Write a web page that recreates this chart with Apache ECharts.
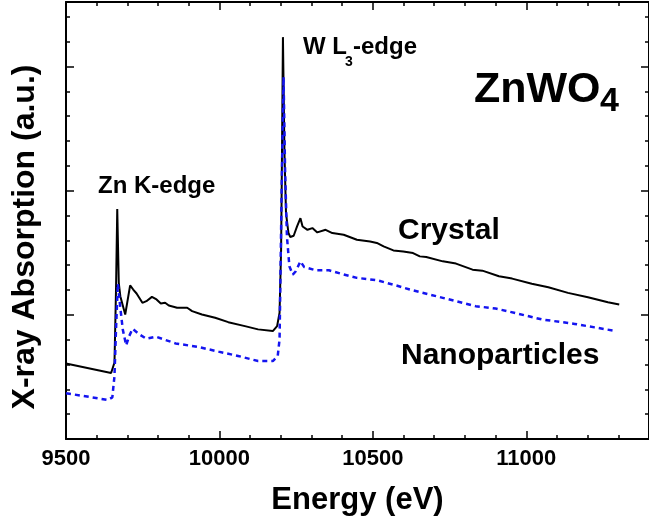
<!DOCTYPE html>
<html>
<head>
<meta charset="utf-8">
<script src="https://cdn.jsdelivr.net/npm/echarts@6/dist/echarts.min.js"></script>
<style>
html,body{margin:0;padding:0;background:#fff;}
#chart{width:649px;height:521px;}
</style>
</head>
<body>
<div id="chart"></div>
<script>
// Crystal (black solid)
var crystalEnergy = [9500, 9647, 9653, 9658, 9663, 9667, 9672, 9677, 9693, 9709, 9719, 9730, 9736, 9749, 9762, 9780, 9795, 9809, 9823, 9835, 9862, 9895, 9911, 9943, 9986, 10029, 10083, 10126, 10174, 10188, 10196, 10201, 10203, 10207, 10212, 10217, 10225, 10231, 10242, 10253, 10264, 10271, 10287, 10303, 10319, 10346, 10368, 10405, 10448, 10491, 10513, 10535, 10567, 10599, 10631, 10653, 10674, 10728, 10771, 10825, 10857, 10911, 10954, 11018, 11072, 11136, 11201, 11266, 11303];
var crystalAbs = [0.608, 0.532, 0.546, 0.616, 1.204, 1.852, 1.258, 1.150, 1.003, 1.238, 1.204, 1.172, 1.156, 1.097, 1.110, 1.145, 1.124, 1.091, 1.097, 1.075, 1.057, 1.057, 1.030, 1.003, 0.977, 0.941, 0.909, 0.883, 0.869, 0.909, 1.017, 1.525, 2.033, 3.237, 2.301, 1.819, 1.659, 1.627, 1.637, 1.712, 1.779, 1.712, 1.685, 1.699, 1.664, 1.685, 1.659, 1.645, 1.605, 1.591, 1.579, 1.551, 1.519, 1.511, 1.498, 1.471, 1.466, 1.431, 1.413, 1.364, 1.356, 1.311, 1.292, 1.250, 1.222, 1.177, 1.142, 1.102, 1.083];
// Nanoparticles (blue dashed)
var nanoEnergy = [9500, 9636, 9651, 9658, 9663, 9669, 9674, 9685, 9696, 9706, 9717, 9739, 9762, 9793, 9825, 9857, 9932, 9997, 10061, 10126, 10174, 10190, 10196, 10203, 10209, 10214, 10220, 10228, 10239, 10249, 10264, 10276, 10314, 10357, 10395, 10448, 10513, 10577, 10620, 10728, 10835, 10900, 10943, 11051, 11158, 11223, 11293];
var nanoAbs = [0.369, 0.315, 0.335, 0.508, 0.883, 1.252, 1.124, 0.883, 0.754, 0.829, 0.888, 0.843, 0.808, 0.824, 0.797, 0.770, 0.741, 0.704, 0.669, 0.628, 0.628, 0.669, 0.803, 2.033, 2.916, 2.167, 1.632, 1.391, 1.324, 1.351, 1.431, 1.386, 1.359, 1.359, 1.332, 1.298, 1.279, 1.236, 1.204, 1.137, 1.070, 1.051, 1.027, 0.963, 0.927, 0.899, 0.869];
var xMin = 9500, xMax = 11400, xMajor = 500, xMinor = 100;
var yMin = 0, yMax = 3.52, yMajor = 1, yMinor = 0.2;

function pairs(xs, ys) { return xs.map(function (x, i) { return [x, ys[i]]; }); }

var FONT = '"Liberation Sans", Arial, Helvetica, sans-serif';
var chart = echarts.init(document.getElementById('chart'), null, {renderer: 'canvas'});

function xAx(pos, interval, len, line, labels, extra) {
  var a = {
    type: 'value', position: pos, min: xMin, max: xMax, interval: interval,
    axisLine: {show: line, onZero: false, lineStyle: {color: '#000', width: 2}},
    axisTick: {show: true, inside: true, length: len, lineStyle: {color: '#000', width: 1.5}},
    axisLabel: {show: labels, color: '#000', fontSize: 22, fontWeight: 'bold', fontFamily: FONT, margin: 9, showMaxLabel: false,
      formatter: function (v) { return String(v); }},
    splitLine: {show: false}
  };
  return Object.assign(a, extra || {});
}
function yAx(pos, interval, len, line, extra) {
  var a = {
    type: 'value', position: pos, min: yMin, max: yMax, interval: interval,
    axisLine: {show: line, onZero: false, lineStyle: {color: '#000', width: 2}},
    axisTick: {show: true, inside: true, length: len, lineStyle: {color: '#000', width: 1.5}},
    axisLabel: {show: false},
    splitLine: {show: false}
  };
  return Object.assign(a, extra || {});
}

chart.setOption({
  animation: false,
  backgroundColor: '#fff',
  grid: {left: 66, right: -6, top: 2, bottom: 81, containLabel: false},
  xAxis: [
    xAx('bottom', xMajor, 8, true, true, {
      name: 'Energy (eV)', nameLocation: 'middle', nameGap: 46,
      nameTextStyle: {color: '#000', fontSize: 31, fontWeight: 'bold', fontFamily: FONT}
    }),
    xAx('bottom', xMinor, 4, false, false),
    xAx('top', xMajor, 8, true, false),
    xAx('top', xMinor, 4, false, false)
  ],
  yAxis: [
    yAx('left', yMajor, 8, true),
    yAx('left', yMinor, 4, false),
    yAx('right', yMajor, 8, true),
    yAx('right', yMinor, 4, false)
  ],
  series: [
    {
      name: 'Crystal', type: 'line', xAxisIndex: 0, yAxisIndex: 0,
      data: pairs(crystalEnergy, crystalAbs), showSymbol: false, symbol: 'none',
      lineStyle: {color: '#000', width: 2}, z: 2
    },
    {
      name: 'Nanoparticles', type: 'line', xAxisIndex: 0, yAxisIndex: 0,
      data: pairs(nanoEnergy, nanoAbs), showSymbol: false, symbol: 'none',
      lineStyle: {color: '#1414f0', width: 2.5, type: [5, 4]}, z: 3
    }
  ],
  graphic: [
    {type: 'text', x: 25, y: 237, rotation: Math.PI / 2,
      style: {text: 'X-ray Absorption (a.u.)', font: 'bold 32px ' + FONT, fill: '#000', align: 'center', verticalAlign: 'middle'}},
    {type: 'text', left: 98, top: 174, style: {text: 'Zn K-edge', font: 'bold 24px ' + FONT, fill: '#000'}},
    {type: 'text', left: 303, top: 35, style: {text: 'W L', font: 'bold 24px ' + FONT, fill: '#000'}},
    {type: 'text', left: 345, top: 55, style: {text: '3', font: 'bold 14px ' + FONT, fill: '#000'}},
    {type: 'text', left: 353, top: 35, style: {text: '-edge', font: 'bold 24px ' + FONT, fill: '#000'}},
    {type: 'text', left: 474, top: 69, style: {text: 'ZnWO', font: 'bold 43px ' + FONT, fill: '#000'}},
    {type: 'text', left: 600, top: 85, style: {text: '4', font: 'bold 34px ' + FONT, fill: '#000'}},
    {type: 'text', left: 398, top: 216, style: {text: 'Crystal', font: 'bold 30px ' + FONT, fill: '#000'}},
    {type: 'text', left: 401, top: 341, style: {text: 'Nanoparticles', font: 'bold 30px ' + FONT, fill: '#000'}}
  ]
});
</script>
</body>
</html>
